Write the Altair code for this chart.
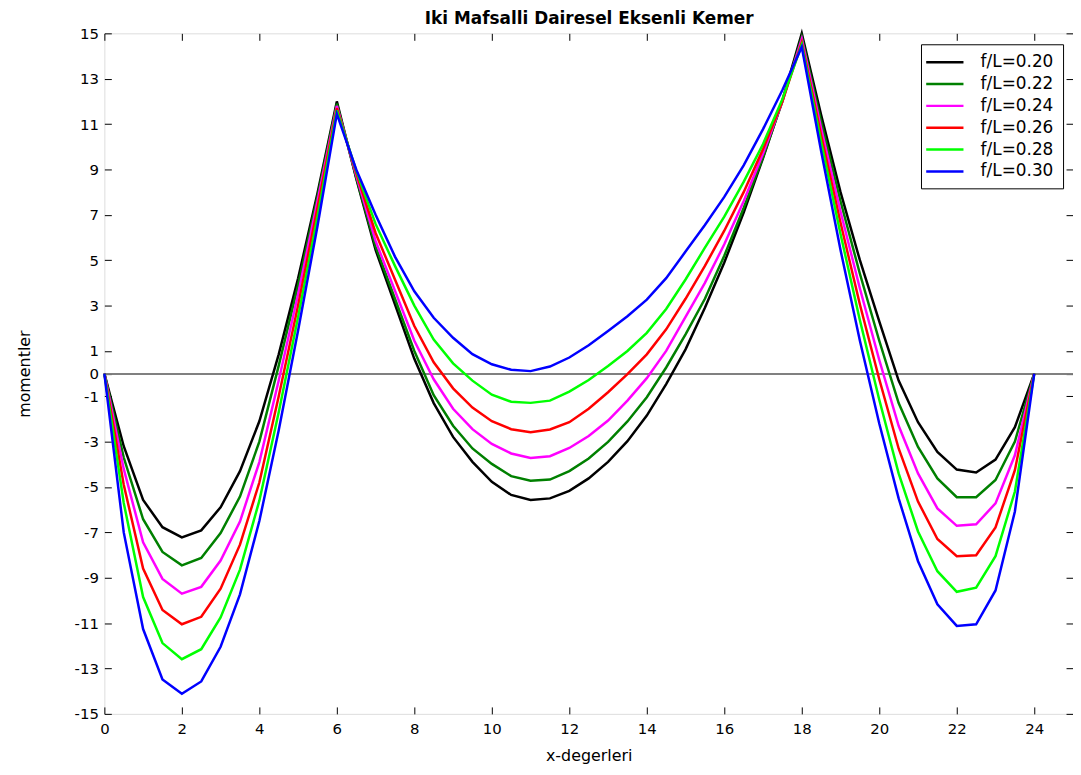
import altair as alt
import pandas as pd

X = [0, 0.5, 1, 1.5, 2, 2.5, 3, 3.5, 4, 4.5, 5, 5.5, 6,
     6.5, 7, 7.5, 8, 8.5, 9, 9.5, 10, 10.5, 11, 11.5, 12, 12.5, 13, 13.5, 14, 14.5, 15,
     15.5, 16, 16.5, 17, 17.5, 18,
     18.5, 19, 19.5, 20, 20.5, 21, 21.5, 22, 22.5, 23, 23.5, 24]

M20 = [0, -3.2, -5.57, -6.77, -7.22, -6.91, -5.89, -4.30, -2.1, 0.85, 4.2, 7.95, 12.0,
       8.6, 5.45, 3.05, 0.65, -1.3, -2.79, -3.89, -4.77, -5.35, -5.57, -5.50, -5.17, -4.62, -3.89, -2.98, -1.85, -0.46, 1.07,
       2.9, 4.9, 7.1, 9.5, 12.05, 15.0,
       11.4, 8.0, 5.0, 2.3, -0.31, -2.14, -3.45, -4.23, -4.36, -3.79, -2.36, 0]
M22 = [0, -3.7, -6.42, -7.86, -8.45, -8.13, -7.03, -5.42, -3.0, 0.35, 3.9, 7.8, 11.9,
       8.65, 5.6, 3.3, 1.0, -0.95, -2.3, -3.3, -3.98, -4.52, -4.72, -4.67, -4.30, -3.74, -3.01, -2.11, -1.04, 0.27, 1.73,
       3.3, 5.2, 7.3, 9.55, 12.0, 14.85,
       11.1, 7.6, 4.4, 1.45, -1.3, -3.23, -4.62, -5.45, -5.45, -4.69, -3.0, 0]
M24 = [0, -4.2, -7.44, -9.05, -9.70, -9.40, -8.24, -6.52, -3.9, -0.3, 3.5, 7.6, 11.8,
       8.75, 5.85, 3.65, 1.45, -0.25, -1.55, -2.45, -3.1, -3.52, -3.72, -3.64, -3.28, -2.75, -2.07, -1.19, -0.2, 1.0, 2.5,
       4.0, 5.7, 7.6, 9.7, 12.0, 14.75,
       10.8, 7.15, 3.75, 0.6, -2.3, -4.40, -5.94, -6.71, -6.64, -5.72, -3.6, 0]
M26 = [0, -4.9, -8.59, -10.42, -11.05, -10.72, -9.48, -7.54, -4.8, -1.0, 3.0, 7.3, 11.7,
       8.85, 6.2, 4.15, 2.1, 0.5, -0.65, -1.5, -2.1, -2.45, -2.58, -2.46, -2.14, -1.55, -0.82, -0.02, 0.85, 1.95, 3.3,
       4.75, 6.3, 8.0, 9.9, 12.0, 14.6,
       10.5, 6.65, 3.05, -0.25, -3.3, -5.64, -7.29, -8.05, -8.01, -6.78, -4.26, 0]
M28 = [0, -5.7, -9.85, -11.88, -12.59, -12.15, -10.75, -8.64, -5.6, -1.7, 2.5, 6.9, 11.6,
       8.95, 6.6, 4.75, 3.0, 1.5, 0.45, -0.31, -0.93, -1.24, -1.29, -1.19, -0.79, -0.28, 0.34, 1.0, 1.8, 2.85, 4.15,
       5.55, 6.92, 8.45, 10.12, 12.1, 14.5,
       10.2, 6.15, 2.35, -1.15, -4.4, -6.96, -8.71, -9.62, -9.44, -8.05, -5.2, 0]
M30 = [0, -7.0, -11.26, -13.48, -14.11, -13.57, -12.04, -9.73, -6.5, -2.5, 1.9, 6.5, 11.45,
       9.0, 7.0, 5.16, 3.63, 2.46, 1.58, 0.86, 0.41, 0.17, 0.11, 0.31, 0.71, 1.25, 1.88, 2.53, 3.26, 4.21, 5.38,
       6.55, 7.79, 9.18, 10.78, 12.5, 14.4,
       9.8, 5.45, 1.45, -2.2, -5.5, -8.27, -10.17, -11.12, -11.05, -9.56, -6.08, 0]

NAMES = ["f/L=0.20", "f/L=0.22", "f/L=0.24", "f/L=0.26", "f/L=0.28", "f/L=0.30"]
COLORS = ["#000000", "#008000", "#ff00ff", "#ff0000", "#00ff00", "#0000ff"]
SERIES = [M20, M22, M24, M26, M28, M30]

XTICKS = [0, 2, 4, 6, 8, 10, 12, 14, 16, 18, 20, 22, 24]
YTICKS = [-15, -13, -11, -9, -7, -5, -3, -1, 0, 1, 3, 5, 7, 9, 11, 13, 15]
TITLE = "Iki Mafsalli Dairesel Eksenli Kemer"

rows = []
for name, vals in zip(NAMES, SERIES):
    for xv, mv in zip(X, vals):
        rows.append({"x": xv, "M": mv, "seri": name})
df = pd.DataFrame(rows)

FONT = "DejaVu Sans"
HYPHEN_LABEL = "datum.value < 0 ? '-' + abs(datum.value) : '' + datum.value"

xscale = alt.Scale(domain=[0, 25], nice=False, zero=False)
yscale = alt.Scale(domain=[-15, 15], nice=False, zero=False)

common_axis = dict(domain=False, grid=False, tickSize=7, offset=-7, tickColor="black",
                   labelFlush=False, labelOverlap=False, labelFont=FONT, labelFontSize=15,
                   labelColor="black", titleFont=FONT, titleFontSize=16,
                   titleFontWeight="normal", titleColor="black", labelExpr=HYPHEN_LABEL)

lines = alt.Chart(df).mark_line(strokeWidth=2.5).encode(
    x=alt.X("x:Q", scale=xscale,
            axis=alt.Axis(orient="bottom", values=XTICKS, title="x-degerleri",
                          labelPadding=8, titlePadding=11, **common_axis)),
    y=alt.Y("M:Q", scale=yscale,
            axis=alt.Axis(orient="left", values=YTICKS, title="momentler",
                          labelPadding=6, titlePadding=42, **common_axis)),
    color=alt.Color("seri:N", scale=alt.Scale(domain=NAMES, range=COLORS),
                    legend=alt.Legend(title=None, orient="none", legendX=822, legendY=11,
                                      direction="vertical", fillColor="white",
                                      strokeColor="black", padding=9,
                                      symbolType="M-2.5,0L2.5,0", symbolSize=225,
                                      symbolStrokeWidth=2.5, symbolOffset=6,
                                      labelFont=FONT, labelFontSize=17, labelColor="black",
                                      labelOffset=27, rowPadding=5)),
    order=alt.Order("x:Q"),
)

top_axis = alt.Axis(orient="top", values=XTICKS, labels=False, title=TITLE,
                    titlePadding=5, **{**common_axis, "titleFontWeight": "bold",
                                       "titleFontSize": 17})
right_axis = alt.Axis(orient="right", values=YTICKS, labels=False, title=None, **common_axis)

zero = alt.Chart(df).mark_rule(color="#808080", strokeWidth=1).encode(
    x=alt.XDatum(0, scale=xscale, axis=top_axis),
    x2=alt.X2Datum(25),
    y=alt.YDatum(0, scale=yscale, axis=right_axis),
)

chart = alt.layer(zero, lines).resolve_axis(x="independent", y="independent").properties(
    width=975, height=685,
    autosize=alt.AutoSizeParams(type="none"),
    padding={"left": 97, "top": 23, "right": 0, "bottom": 58},
).configure_view(stroke="black", strokeWidth=1.2).configure(background="white")

chart.save("out.html", embed_options={"renderer": "svg", "actions": False})
